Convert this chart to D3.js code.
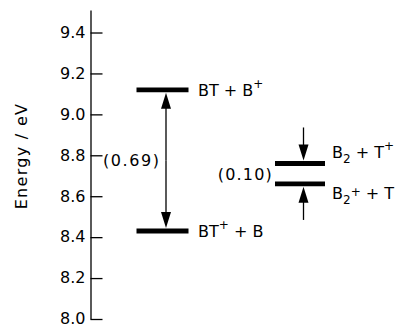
<!DOCTYPE html>
<html>
<head>
<meta charset="utf-8">
<script src="https://cdn.jsdelivr.net/npm/d3@7"></script>
<style>
html,body{margin:0;padding:0;background:#fff;}
svg{display:block;}
text{font-family:"DejaVu Sans",sans-serif;fill:#000;}
</style>
</head>
<body>
<svg id="chart" width="396" height="327"></svg>
<script>
// ---- data ----
const tickValues = [8.0, 8.2, 8.4, 8.6, 8.8, 9.0, 9.2, 9.4];
const tickLabels = ["8.0", "8.2", "8.4", "8.6", "8.8", "9.0", "9.2", "9.4"];
const axisTop = 9.51;
const btLevels = [9.12, 8.43];           // BT + B+, BT+ + B
const b2Levels = [8.76, 8.66];           // B2 + T+, B2+ + T
const gaps = ["(0.69)", "(0.10)"];
const yTitle = "Energy / eV";

// ---- layout ----
const svg = d3.select("#chart");
const axisX = 90.5;
const y = d3.scaleLinear().domain([8.0, axisTop]).range([319, 10]);
const FS = 16;
const FF = "DejaVu Sans, sans-serif";

const axis = d3.axisLeft(y)
  .tickValues(tickValues)
  .tickFormat((d, i) => tickLabels[i])
  .tickSizeInner(-12)
  .tickSizeOuter(0)
  .tickPadding(5);

const gAxis = svg.append("g").attr("transform", `translate(${axisX},0)`).call(axis);
gAxis.selectAll("path.domain").attr("stroke", "#000").attr("stroke-width", 1.3);
gAxis.selectAll(".tick line").attr("stroke", "#000").attr("stroke-width", 1.3);
gAxis.selectAll(".tick text").attr("font-size", FS).attr("font-family", FF).attr("fill", "#000").attr("dy", "0.3em");

svg.append("text")
  .attr("transform", `translate(27,156) rotate(-90)`)
  .attr("text-anchor", "middle")
  .attr("font-size", FS)
  .attr("letter-spacing", 1.3)
  .text(yTitle);

const LW = 4.8;
function level(x1, x2, v) {
  svg.append("line").attr("x1", x1).attr("x2", x2).attr("y1", y(v)).attr("y2", y(v))
    .attr("stroke", "#000").attr("stroke-width", LW);
}
function arrow(x, yFrom, yTo) {
  const dir = yTo > yFrom ? 1 : -1;
  const L = 16, W = 5;
  svg.append("line").attr("x1", x).attr("x2", x).attr("y1", yFrom).attr("y2", yTo - dir * L * 0.5)
    .attr("stroke", "#000").attr("stroke-width", 1.3);
  svg.append("path")
    .attr("d", `M${x},${yTo} L${x - W},${yTo - dir * L} L${x + W},${yTo - dir * L} Z`)
    .attr("fill", "#000");
}

// BT levels
const btX1 = 136.5, btX2 = 188.5, btArrowX = 166;
btLevels.forEach(v => level(btX1, btX2, v));
const yTopEdge = y(btLevels[0]) + LW / 2 + 0.5;
const yBotEdge = y(btLevels[1]) - LW / 2 - 0.5;
const mid = (yTopEdge + yBotEdge) / 2;
arrow(btArrowX, mid, yTopEdge);
arrow(btArrowX, mid, yBotEdge);

// B2 levels
const b2X1 = 275, b2X2 = 325, b2ArrowX = 303.5;
b2Levels.forEach(v => level(b2X1, b2X2, v));
arrow(b2ArrowX, y(b2Levels[0]) - 36, y(b2Levels[0]) - LW / 2 - 0.5);
arrow(b2ArrowX, y(b2Levels[1]) + 36, y(b2Levels[1]) + LW / 2 + 0.5);

// gap labels
svg.append("text").attr("x", 103).attr("y", (y(btLevels[0]) + y(btLevels[1])) / 2 + 6)
  .attr("font-size", FS).attr("letter-spacing", 1.6).text(gaps[0]);
svg.append("text").attr("x", 273).attr("y", (y(b2Levels[0]) + y(b2Levels[1])) / 2 + 6)
  .attr("font-size", FS).attr("letter-spacing", 1.2).attr("text-anchor", "end").text(gaps[1]);

// species labels (with super/subscripts)
function label(x, yb, parts) {
  const t = svg.append("text").attr("x", x).attr("y", yb).attr("font-size", FS);
  parts.forEach(p => {
    const ts = t.append("tspan").text(p.t);
    if (p.sup) ts.attr("font-size", FS * 0.75).attr("dy", -8);
    if (p.sub) ts.attr("font-size", FS * 0.75).attr("dy", 5);
    if (p.back) ts.attr("dy", p.back);
  });
}
label(198, y(btLevels[0]) + 6, [{t: "BT + B"}, {t: "+", sup: true}]);
label(198, y(btLevels[1]) + 6, [{t: "BT"}, {t: "+", sup: true}, {t: " + B", back: 8}]);
label(332, y(b2Levels[0]) - 5, [{t: "B"}, {t: "2", sub: true}, {t: " + T", back: -5}, {t: "+", sup: true}]);
label(332, y(b2Levels[1]) + 15, [{t: "B"}, {t: "2", sub: true}, {t: "+", sup: true}, {t: " + T", back: 3}]);
</script>
</body>
</html>
